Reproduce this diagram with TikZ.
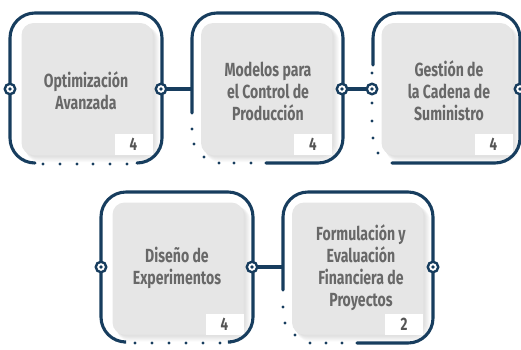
\documentclass[tikz,border=0pt]{standalone}
\usepackage{fontspec}
\newfontfamily\condf[FakeStretch=0.74]{Fira Sans}
\definecolor{navy}{HTML}{173D5E}
\definecolor{boxgray}{HTML}{E6E6E6}
\definecolor{txtgray}{HTML}{686868}
\definecolor{numgray}{HTML}{555555}
\tikzset{
  frame/.style={draw=navy, line width=3.1pt, rounded corners=25pt, line cap=round},
  conn/.style={draw=navy, line width=3.1pt},
  dotm/.style={fill=navy},
  port/.style={circle, draw=navy, line width=2.4pt, fill=white, minimum size=10.5pt, inner sep=0pt},
  pdot/.style={circle, fill=navy, minimum size=3.8pt, inner sep=0pt},
  graybox/.style={rectangle, rounded corners=12pt, fill=boxgray, minimum width=131pt, minimum height=132pt, inner sep=0pt},
  shade/.style={fill=black, opacity=0.018, rounded corners=14pt},
  numbox/.style={rectangle, fill=white, minimum width=38pt, minimum height=21pt, inner sep=0pt, font=\condf\bfseries\fontsize{18}{18}\selectfont, text=numgray},
  label/.style={align=center, text=txtgray, font=\condf\bfseries\fontsize{19}{22}\selectfont, inner sep=0pt}
}
\begin{document}
\begin{tikzpicture}[x=1pt,y=-1pt]
\useasboundingbox (0,0) rectangle (521,349);
% soft shadows
\foreach \cx/\cy in {87/89, 266.5/89, 447/89, 178/268.5, 357.5/268.5}{
  \foreach \k in {1,...,6}{
    \fill[shade] (\cx-65.5+1+0.5*\k,\cy-66+1+0.5*\k) rectangle (\cx+65.5+1+\k,\cy+66+1+\k);
  }
}
% gray boxes
\node[graybox] (g1) at (87,89) {};
\node[graybox] (g2) at (266.5,89) {};
\node[graybox] (g3) at (447,89) {};
\node[graybox] (g4) at (178,268.5) {};
\node[graybox] (g5) at (357.5,268.5) {};
% number boxes
\node[numbox, anchor=south east] (n1) at (g1.south east) {4};
\node[numbox, anchor=south east] (n2) at (g2.south east) {4};
\node[numbox, anchor=south east] (n3) at (g3.south east) {4};
\node[numbox, anchor=south east] (n4) at (g4.south east) {4};
\node[numbox, anchor=south east] (n5) at (g5.south east) {2};
% labels
\node[label] (t1) at (86,91) {Optimización\\Avanzada};
\node[label] (t2) at (268,91) {Modelos para\\el Control de\\Producción};
\node[label] (t3) at (449,91) {Gestión de\\la Cadena de\\Suministro};
\node[label] (t4) at (177,268) {Diseño de\\Experimentos};
\node[label] (t5) at (361,268) {Formulación y\\Evaluación\\Financiera de\\Proyectos};
% frames
\draw[frame] (35,163) -| (10,13) -| (162,163) -- (137,163);
\draw[frame] (192,113) |- (343,13) |- (266,163);
\draw[frame] (373,65) |- (520,13) |- (392,163);
\draw[frame] (124,342) -| (101,192) -| (253,342) -- (231,342);
\draw[frame] (283,290) |- (433,192) |- (357,343);
% dotted parts
\foreach \x in {43,60,77,93,110,127}{\fill[dotm] (\x,164) circle (1.6pt);}
\foreach \x/\y in {192/129,194/144,204/157,219/163,234/163,251/163}{\fill[dotm] (\x,\y) circle (1.6pt);}
\foreach \x/\y in {372/73,372/103,372/121,373/138,378/153}{\fill[dotm] (\x,\y) circle (1.6pt);}
\foreach \x in {135,152,169,186,203,220}{\fill[dotm] (\x,343) circle (1.6pt);}
\foreach \x/\y in {283/307,285/323,295/335,310/343,326/343,342/343}{\fill[dotm] (\x,\y) circle (1.6pt);}
% connector end points
\coordinate (c2l) at (192,89);
\coordinate (c5l) at (283,267);
% ports
\node[port] (p1l) at (10,89) {};
\node[port] (p1r) at (161,89) {};
\node[port] (p2r) at (342,89) {};
\node[port] (p3l) at (372,89) {};
\node[port] (p3r) at (520,89) {};
\node[port] (p4l) at (101,267) {};
\node[port] (p4r) at (252,267) {};
\node[port] (p5r) at (433,267) {};
% connectors
\draw[conn] (p1r.east) -- (c2l);
\draw[conn] (p2r.east) -- (p3l.west);
\draw[conn] (p4r.east) -- (c5l);
% port centre dots
\foreach \p in {p1l,p1r,p2r,p3l,p3r,p4l,p4r,p5r}{\node[pdot] at (\p.center) {};}
\end{tikzpicture}
\end{document}
